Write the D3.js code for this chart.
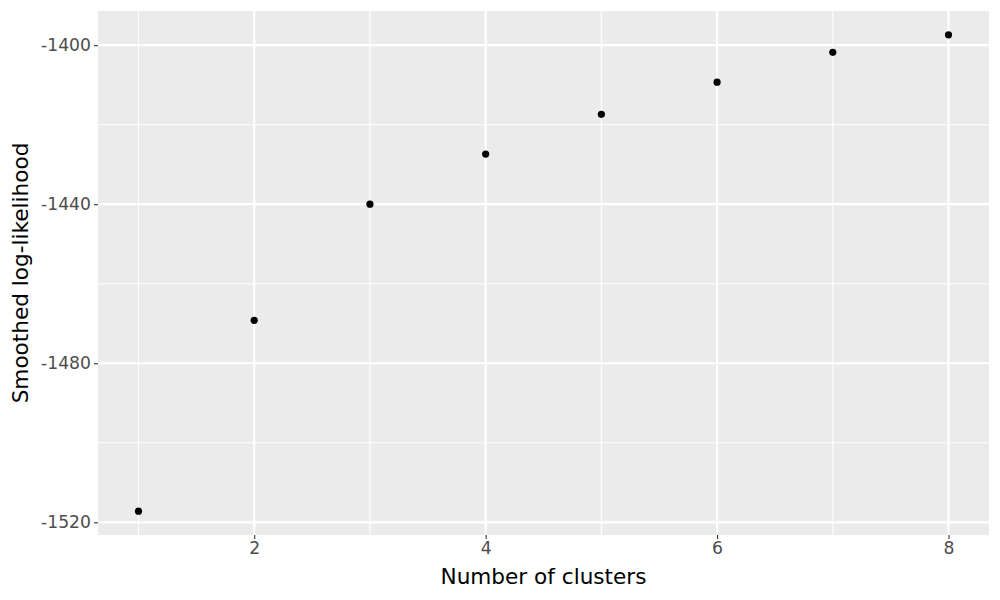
<!DOCTYPE html>
<html><head><meta charset="utf-8">
<script src="https://cdn.jsdelivr.net/npm/d3@7"></script>
<style>body{margin:0;background:#fff}svg{display:block;font-family:"DejaVu Sans",sans-serif}</style>
</head><body><svg id="c" width="1000" height="600"></svg>
<script>
const clusters = [1, 2, 3, 4, 5, 6, 7, 8];
const loglik = [-1517.2, -1469.2, -1440.0, -1427.4, -1417.4, -1409.3, -1401.8, -1397.4];
const xTicks = [2, 4, 6, 8];
const yTicks = [-1520, -1480, -1440, -1400];
const yMinor = [-1500, -1460, -1420];
const xMinor = [1, 3, 5, 7];

const svg = d3.select("#c");
const L = 98, R = 989, T = 11, B = 535;
const x = d3.scaleLinear().domain([0.65, 8.35]).range([L, R]);
const ymin = d3.min(loglik), ymax = d3.max(loglik), pad = (ymax - ymin) * 0.05;
const y = d3.scaleLinear().domain([ymin - pad, ymax + pad]).range([B, T]);

svg.append("rect").attr("x", L).attr("y", T).attr("width", R - L).attr("height", B - T).attr("fill", "#ebebeb");
const g = svg.append("g");
g.selectAll(".ym").data(yMinor).join("line").attr("x1", L).attr("x2", R)
  .attr("y1", d => y(d)).attr("y2", d => y(d)).attr("stroke", "#fff").attr("stroke-width", 1.1);
g.selectAll(".xm").data(xMinor).join("line").attr("y1", T).attr("y2", B)
  .attr("x1", d => x(d)).attr("x2", d => x(d)).attr("stroke", "#fff").attr("stroke-width", 1.1);
g.selectAll(".yM").data(yTicks).join("line").attr("x1", L).attr("x2", R)
  .attr("y1", d => y(d)).attr("y2", d => y(d)).attr("stroke", "#fff").attr("stroke-width", 2.2);
g.selectAll(".xM").data(xTicks).join("line").attr("y1", T).attr("y2", B)
  .attr("x1", d => x(d)).attr("x2", d => x(d)).attr("stroke", "#fff").attr("stroke-width", 2.2);

const xAxis = svg.append("g").attr("transform", `translate(0,${B})`)
  .call(d3.axisBottom(x).tickValues(xTicks).tickSize(4).tickPadding(3).tickFormat(d3.format("d")));
const yAxis = svg.append("g").attr("transform", `translate(${L},0)`)
  .call(d3.axisLeft(y).tickValues(yTicks).tickSize(4).tickPadding(3).tickFormat(d => String(d).replace("\u2212", "-")));
[xAxis, yAxis].forEach(a => {
  a.select(".domain").remove();
  a.attr("font-size", 17.2).attr("font-family", "DejaVu Sans, sans-serif");
  a.selectAll(".tick line").attr("stroke", "#333").attr("stroke-width", 1.1);
  a.selectAll(".tick text").attr("fill", "#4d4d4d").style("font-size", "17.2px");
});

svg.append("g").selectAll("circle").data(clusters).join("circle")
  .attr("cx", d => x(d)).attr("cy", (d, i) => y(loglik[i])).attr("r", 3.6).attr("fill", "#000");

svg.append("text").attr("x", (L + R) / 2).attr("y", 584).attr("text-anchor", "middle")
  .style("font-size", "21.6px").attr("fill", "#000").text("Number of clusters");
svg.append("text").attr("transform", `translate(28,${(T + B) / 2}) rotate(-90)`).attr("text-anchor", "middle")
  .style("font-size", "21.6px").attr("fill", "#000").text("Smoothed log-likelihood");
</script></body></html>
